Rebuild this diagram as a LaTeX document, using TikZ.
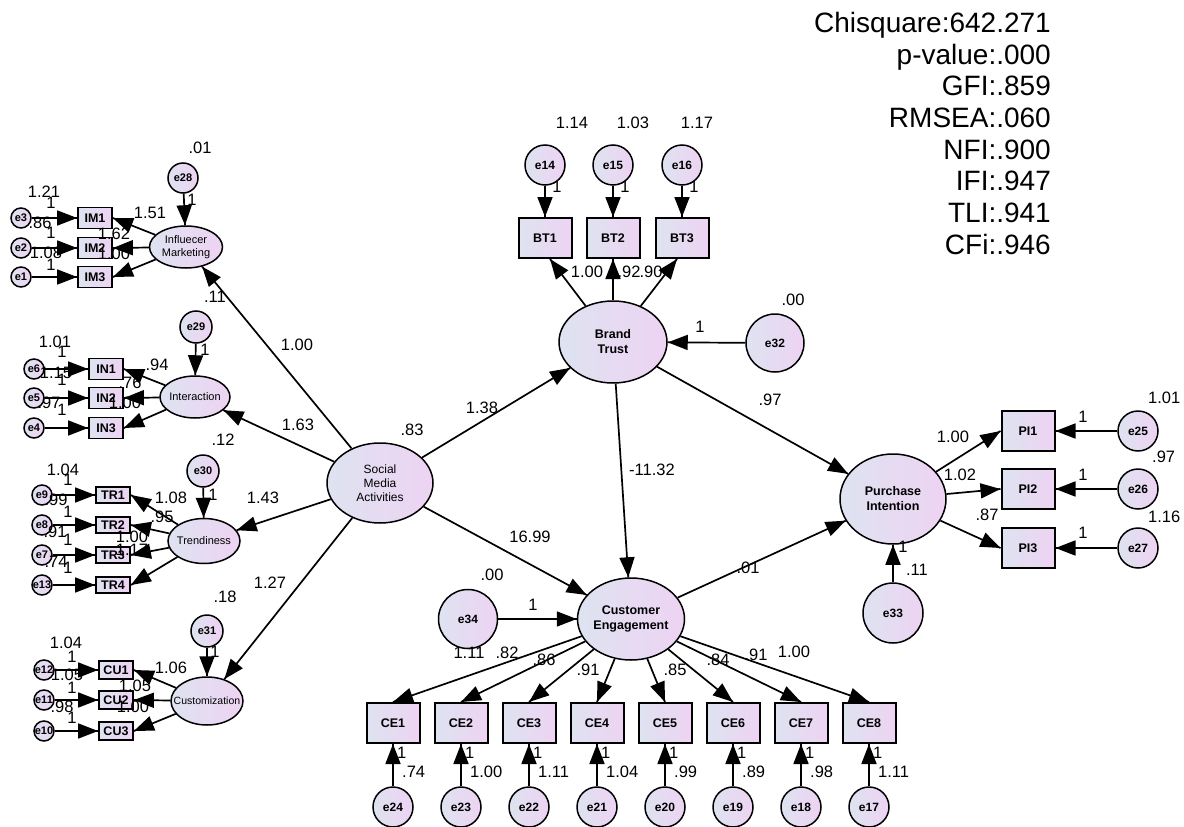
\documentclass[tikz,border=0pt]{standalone}
\usepackage{fontspec}
\setmainfont{Liberation Sans}
\usetikzlibrary{shapes.geometric,arrows.meta,decorations.markings}
\definecolor{shL}{RGB}{222,227,240}
\definecolor{shR}{RGB}{238,211,243}
\tikzstyle{latent}=[ellipse, draw, line width=1.5pt, left color=shL, right color=shR, inner sep=0pt, align=center, font=\bfseries\fontsize{12.5}{15}\selectfont]
\tikzstyle{leftlabel}=[inner sep=0pt, align=center, font=\fontsize{11}{13}\selectfont]
\tikzstyle{indicator}=[rectangle, draw, line width=2pt, left color=shL, right color=shR, inner sep=0pt, minimum width=53pt, minimum height=40pt, font=\bfseries\fontsize{12.5}{14}\selectfont]
\tikzstyle{smallind}=[indicator, line width=1.8pt, minimum width=34pt, minimum height=21pt, font=\bfseries\fontsize{12.5}{14}\selectfont]
\tikzstyle{errvar}=[circle, draw, line width=1.5pt, left color=shL, right color=shR, inner sep=0pt, minimum size=40pt, font=\bfseries\fontsize{12}{13}\selectfont]
\tikzstyle{smallerr}=[errvar, minimum size=20pt, font=\bfseries\fontsize{11}{12}\selectfont]
\tikzstyle{est}=[inner sep=0pt, font=\fontsize{16.5}{18}\selectfont]
\newcommand{\latent}{\node[latent]}
\newcommand{\indic}{\node[indicator]}
\newcommand{\sindic}{\node[smallind]}
\newcommand{\errc}{\node[errvar]}
\newcommand{\serrc}{\node[smallerr]}
\newcommand{\est}{\node[est]}

\begin{document}
\begin{tikzpicture}[x=1pt, y=-1pt,
    every edge/.style={
        draw, line width=1.7pt,
        postaction={decorate,
                    decoration={markings,mark=at position 1 with {\arrow{Triangle[length=20pt,width=15pt]}}}
                   }
        }
]
\useasboundingbox (0,0) rectangle (1184,827);
% fit indices
\node (fit) at (1051,12) [anchor=north east, align=right, inner sep=0pt, font=\fontsize{28}{31.7}\selectfont] {Chisquare:642.271\\p-value:.000\\GFI:.859\\RMSEA:.060\\NFI:.900\\IFI:.947\\TLI:.941\\CFi:.946};
% latent variables
\latent (SMA) at (380,483) [minimum width=106pt, minimum height=80pt, font=\fontsize{12}{14}\selectfont] {Social\\Media\\Activities};
\latent (BT) at (613,342) [minimum width=108pt, minimum height=82pt] {Brand\\Trust};
\latent (CE) at (631,619) [minimum width=107pt, minimum height=82pt] {Customer\\Engagement};
\latent (PI) at (893,499) [minimum width=106pt, minimum height=90pt] {Purchase\\Intention};
\latent (IM) at (186,247) [minimum width=73pt, minimum height=42pt, label={[leftlabel]center:{Influecer\\Marketing}}] {};
\latent (IN) at (195,397) [minimum width=70pt, minimum height=42pt, label={[leftlabel]center:Interaction}] {};
\latent (TR) at (204,541) [minimum width=72pt, minimum height=45pt, label={[leftlabel]center:Trendiness}] {};
\latent (CU) at (207,701) [minimum width=72pt, minimum height=48pt, label={[leftlabel, font=\fontsize{10.5}{12}\selectfont]center:Customization}] {};
% indicators
\indic (BT1) at (545,238) {BT1};
\indic (BT2) at (613,238) {BT2};
\indic (BT3) at (682,238) {BT3};
\indic (PI1) at (1028,431) {PI1};
\indic (PI2) at (1028,489) {PI2};
\indic (PI3) at (1028,548) {PI3};
\indic (CE1) at (393,723) {CE1};
\indic (CE2) at (461,723) {CE2};
\indic (CE3) at (529,723) {CE3};
\indic (CE4) at (597,723) {CE4};
\indic (CE5) at (665,723) {CE5};
\indic (CE6) at (733,723) {CE6};
\indic (CE7) at (801,723) {CE7};
\indic (CE8) at (869,723) {CE8};
\sindic (IM1) at (95,218) {IM1};
\sindic (IM2) at (95,248) {IM2};
\sindic (IM3) at (95,277) {IM3};
\sindic (IN1) at (106,369) {IN1};
\sindic (IN2) at (106,398) {IN2};
\sindic (IN3) at (106,428) {IN3};
\sindic (TR1) at (113,495) [minimum height=16pt] {TR1};
\sindic (TR2) at (113,525) [minimum height=16pt] {TR2};
\sindic (TR3) at (113,555) [minimum height=16pt] {TR3};
\sindic (TR4) at (113,585) [minimum height=16pt] {TR4};
\sindic (CU1) at (116,670) [minimum height=18pt] {CU1};
\sindic (CU2) at (116,700) [minimum height=18pt] {CU2};
\sindic (CU3) at (116,731) [minimum height=18pt] {CU3};
% error terms
\errc (e32) at (775,343) [minimum size=58pt] {e32};
\errc (e34) at (468,619) [minimum size=59pt] {e34};
\errc (e33) at (893,613) [minimum size=60pt] {e33};
\errc (e14) at (545,165) {e14};
\errc (e15) at (613,165) {e15};
\errc (e16) at (682,165) {e16};
\errc (e25) at (1138,431) {e25};
\errc (e26) at (1138,489) {e26};
\errc (e27) at (1138,548) {e27};
\errc (e24) at (393,807) {e24};
\errc (e23) at (461,807) {e23};
\errc (e22) at (529,807) {e22};
\errc (e21) at (597,807) {e21};
\errc (e20) at (665,807) {e20};
\errc (e19) at (733,807) {e19};
\errc (e18) at (801,807) {e18};
\errc (e17) at (869,807) {e17};
\errc (e28) at (183,178) [minimum size=30pt, font=\bfseries\fontsize{11}{12}\selectfont] {e28};
\errc (e29) at (196,327) [minimum size=32pt, font=\bfseries\fontsize{11}{12}\selectfont] {e29};
\errc (e30) at (203,471) [minimum size=32pt, font=\bfseries\fontsize{11}{12}\selectfont] {e30};
\errc (e31) at (207,631) [minimum size=32pt, font=\bfseries\fontsize{11}{12}\selectfont] {e31};
\serrc (e3) at (21,218) {e3};
\serrc (e2) at (21,248) {e2};
\serrc (e1) at (21,277) {e1};
\serrc (e6) at (34,369) {e6};
\serrc (e5) at (34,398) {e5};
\serrc (e4) at (34,428) {e4};
\serrc (e9) at (42,495) {e9};
\serrc (e8) at (42,525) {e8};
\serrc (e7) at (42,555) {e7};
\serrc (e13) at (42,585) {e13};
\serrc (e12) at (44,670) {e12};
\serrc (e11) at (44,700) {e11};
\serrc (e10) at (44,731) {e10};
\path
(SMA) edge (BT)
(SMA) edge (CE)
(BT) edge (CE)
(BT) edge (PI)
(CE) edge (PI)
(SMA) edge (IM)
(SMA) edge (IN)
(SMA) edge (TR)
(SMA) edge (CU)
(e32) edge (BT)
(e34) edge (CE)
(e33) edge (PI)
(BT) edge ([xshift=5pt]BT1.south)
(BT) edge (BT2.south)
(BT) edge ([xshift=-5pt]BT3.south)
(e14) edge (BT1)
(e15) edge (BT2)
(e16) edge (BT3)
(PI) edge (PI1.west)
(PI) edge (PI2.west)
(PI) edge (PI3.west)
(e25) edge (PI1)
(e26) edge (PI2)
(e27) edge (PI3)
(CE) edge (CE1.north)
(CE) edge (CE2.north)
(CE) edge (CE3.north)
(CE) edge (CE4.north)
(CE) edge (CE5.north)
(CE) edge (CE6.north)
(CE) edge (CE7.north)
(CE) edge (CE8.north)
(e24) edge (CE1)
(e23) edge (CE2)
(e22) edge (CE3)
(e21) edge (CE4)
(e20) edge (CE5)
(e19) edge (CE6)
(e18) edge (CE7)
(e17) edge (CE8)
(e28) edge (IM)
(IM) edge (IM1.east)
(IM) edge (IM2.east)
(IM) edge (IM3.east)
(e3) edge (IM1)
(e2) edge (IM2)
(e1) edge (IM3)
(e29) edge (IN)
(IN) edge (IN1.east)
(IN) edge (IN2.east)
(IN) edge (IN3.east)
(e6) edge (IN1)
(e5) edge (IN2)
(e4) edge (IN3)
(e30) edge (TR)
(TR) edge (TR1.east)
(TR) edge (TR2.east)
(TR) edge (TR3.east)
(TR) edge (TR4.east)
(e9) edge (TR1)
(e8) edge (TR2)
(e7) edge (TR3)
(e13) edge (TR4)
(e31) edge (CU)
(CU) edge (CU1.east)
(CU) edge (CU2.east)
(CU) edge (CU3.east)
(e12) edge (CU1)
(e11) edge (CU2)
(e10) edge (CU3)
;
% estimates: structural paths
\est (vSMA) at (412,430) {.83};
\est (pBT) at (482,408) {1.38};
\est (pCE) at (530,537) {16.99};
\est (pBTCE) at (652,470) {-11.32};
\est (pBTPI) at (770,400) {.97};
\est (pCEPI) at (748,568) {.01};
\est (pIM) at (297,345) {1.00};
\est (pIN) at (298,425) {1.63};
\est (pTR) at (263,498) {1.43};
\est (pCU) at (270,583) {1.27};
% brand trust
\est (vE14) at (572,123) {1.14};
\est (vE15) at (633,123) {1.03};
\est (vE16) at (697,123) {1.17};
\est (fE14) at (557,187) {1};
\est (fE15) at (625,187) {1};
\est (fE16) at (694,187) {1};
\est (lBT1) at (587,272) {1.00};
\est (lBT2) at (629,272) {.92};
\est (lBT3) at (651,272) {.90};
\est (vE32) at (793,300) {.00};
\est (fE32) at (700,327) {1};
% customer engagement
\est (vE34) at (492,575) {.00};
\est (fE34) at (533,605) {1};
\est (lCE1) at (469,653) {1.11};
\est (lCE2) at (507,653) {.82};
\est (lCE3) at (544,660) {.86};
\est (lCE4) at (588,670) {.91};
\est (lCE5) at (675,670) {.85};
\est (lCE6) at (718,660) {.84};
\est (lCE7) at (756,655) {.91};
\est (lCE8) at (794,652) {1.00};
\est (fE24) at (397,753) [anchor=west] {1};
\est (fE23) at (465,753) [anchor=west] {1};
\est (fE22) at (533,753) [anchor=west] {1};
\est (fE21) at (601,753) [anchor=west] {1};
\est (fE20) at (669,753) [anchor=west] {1};
\est (fE19) at (737,753) [anchor=west] {1};
\est (fE18) at (805,753) [anchor=west] {1};
\est (fE17) at (873,753) [anchor=west] {1};
\est (vE24) at (402,772) [anchor=west] {.74};
\est (vE23) at (470,772) [anchor=west] {1.00};
\est (vE22) at (538,772) [anchor=west] {1.11};
\est (vE21) at (606,772) [anchor=west] {1.04};
\est (vE20) at (674,772) [anchor=west] {.99};
\est (vE19) at (742,772) [anchor=west] {.89};
\est (vE18) at (810,772) [anchor=west] {.98};
\est (vE17) at (878,772) [anchor=west] {1.11};
% purchase intention
\est (lPI1) at (953,437) {1.00};
\est (lPI2) at (960,475) {1.02};
\est (lPI3) at (987,515) {.87};
\est (fE25) at (1083,417) {1};
\est (fE26) at (1083,475) {1};
\est (fE27) at (1083,533) {1};
\est (vE25) at (1148,398) [anchor=west] {1.01};
\est (vE26) at (1152,457) [anchor=west] {.97};
\est (vE27) at (1148,517) [anchor=west] {1.16};
\est (fE33) at (903,547) {1};
\est (vE33) at (917,570) {.11};
% influencer marketing
\est (vE28) at (200,148) {.01};
\est (fE28) at (192,200) {1};
\est (vE3) at (44,192) {1.21};
\est (vE2) at (40,223) {.86};
\est (vE1) at (46,253) {1.08};
\est (fE3) at (51,203) {1};
\est (fE2) at (51,233) {1};
\est (fE1) at (51,265) {1};
\est (lIM1) at (150,213) {1.51};
\est (lIM2) at (114,234) {1.62};
\est (lIM3) at (114,254) {1.00};
% interaction
\est (vE29) at (215,297) {.11};
\est (fE29) at (205,350) {1};
\est (vE6) at (55,342) {1.01};
\est (vE5) at (56,373) {1.15};
\est (vE4) at (49,403) {.97};
\est (fE6) at (62,352) {1};
\est (fE5) at (62,380) {1};
\est (fE4) at (62,410) {1};
\est (lIN1) at (157,365) {.94};
\est (lIN2) at (130,383) {.76};
\est (lIN3) at (125,403) {1.00};
% trendiness
\est (vE30) at (223,440) {.12};
\est (fE30) at (213,495) {1};
\est (vE9) at (63,470) {1.04};
\est (vE8) at (56,500) {.99};
\est (vE7) at (55,532) {.91};
\est (vE13) at (56,562) {.74};
\est (fE9) at (68,480) {1};
\est (fE8) at (68,512) {1};
\est (fE7) at (68,540) {1};
\est (fE13) at (68,568) {1};
\est (lTR1) at (171,498) {1.08};
\est (lTR2) at (162,517) {.95};
\est (lTR3) at (132,537) {1.00};
\est (lTR4) at (132,550) {1.17};
% customization
\est (vE31) at (225,597) {.18};
\est (fE31) at (215,652) {1};
\est (vE12) at (66,643) {1.04};
\est (vE11) at (67,675) {1.05};
\est (vE10) at (62,707) {.98};
\est (fE12) at (72,657) {1};
\est (fE11) at (72,688) {1};
\est (fE10) at (72,718) {1};
\est (lCU1) at (171,668) {1.06};
\est (lCU2) at (135,686) {1.05};
\est (lCU3) at (133,707) {1.00};
\end{tikzpicture}
\end{document}
